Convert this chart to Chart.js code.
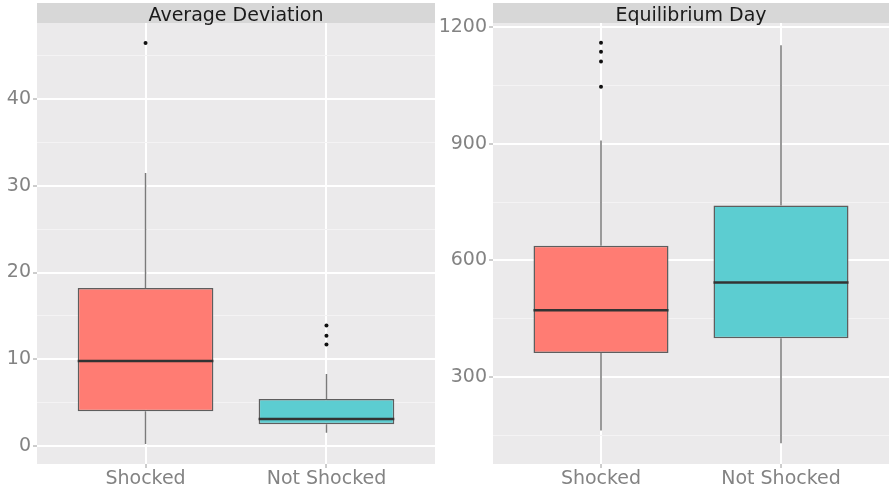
<!DOCTYPE html>
<html lang="en">

<head>
    <meta charset="UTF-8">
    <title>boxplots</title>
    <script src="https://cdn.jsdelivr.net/npm/chart.js"></script>
    <style>
        body { margin: 0; background: #fff; overflow: hidden; }
        .panel { position: absolute; top: 0; }
    </style>
</head>

<body>
    <canvas id="devChart" class="panel" width="439" height="491" style="left:0"></canvas>
    <canvas id="dayChart" class="panel" width="456" height="491" style="left:437px"></canvas>

    <script>
        // categories shared by both panels
        const categories = ["Shocked", "Not Shocked"];
        const catPos = [1, 2];
        const boxColors = ["#FF7C73", "#5CCDD1"];

        // Average Deviation
        const devMin = [0.2, 1.5];
        const devQ1 = [4.0, 2.5];
        const devMedian = [9.8, 3.1];
        const devQ3 = [18.2, 5.4];
        const devMax = [31.5, 8.3];
        const devOutliers = [[46.5], [13.9, 12.7, 11.7]];
        const devTicks = [0, 10, 20, 30, 40];
        const devMinor = [5, 15, 25, 35, 45];

        // Equilibrium Day
        const dayMin = [163, 130];
        const dayQ1 = [362, 400];
        const dayMedian = [472, 543];
        const dayQ3 = [638, 741];
        const dayMax = [908, 1153];
        const dayOutliers = [[1159, 1136, 1111, 1046], []];
        const dayTicks = [300, 600, 900, 1200];
        const dayMinor = [150, 450, 750, 1050];

        const FONT = "'DejaVu Sans', sans-serif";

        // whiskers before the boxes, medians after, strip on top
        const boxPlugin = {
            id: "boxParts",
            beforeDatasetsDraw(chart, args, opts) {
                const ctx = chart.ctx, x = chart.scales.x, y = chart.scales.y;
                ctx.save();
                ctx.strokeStyle = "#7a7a7a";
                ctx.lineWidth = 1.5;
                opts.pos.forEach((p, i) => {
                    const px = x.getPixelForValue(p);
                    ctx.beginPath();
                    ctx.moveTo(px, y.getPixelForValue(opts.min[i]));
                    ctx.lineTo(px, y.getPixelForValue(opts.q1[i]));
                    ctx.moveTo(px, y.getPixelForValue(opts.q3[i]));
                    ctx.lineTo(px, y.getPixelForValue(opts.max[i]));
                    ctx.stroke();
                });
                ctx.restore();
            },
            afterDatasetsDraw(chart, args, opts) {
                const ctx = chart.ctx, x = chart.scales.x, y = chart.scales.y;
                const bars = chart.getDatasetMeta(0).data;
                ctx.save();
                ctx.strokeStyle = "#333";
                ctx.lineWidth = 2.5;
                opts.pos.forEach((p, i) => {
                    const px = x.getPixelForValue(p);
                    const hw = bars[i].width / 2;
                    const py = y.getPixelForValue(opts.median[i]);
                    ctx.beginPath();
                    ctx.moveTo(px - hw, py);
                    ctx.lineTo(px + hw, py);
                    ctx.stroke();
                });
                // facet strip
                const a = chart.chartArea;
                ctx.fillStyle = "#D7D7D7";
                ctx.fillRect(a.left, 3, a.right - a.left, a.top - 3);
                ctx.fillStyle = "#1a1a1a";
                ctx.font = "19px " + FONT;
                ctx.textAlign = "center";
                ctx.textBaseline = "alphabetic";
                ctx.fillText(opts.title, (a.left + a.right) / 2, 21);
                ctx.restore();
            }
        };

        const panelBg = {
            id: "panelBg",
            beforeDraw(chart) {
                const a = chart.chartArea, ctx = chart.ctx;
                ctx.save();
                ctx.fillStyle = "#EBEAEB";
                ctx.fillRect(a.left, a.top, a.right - a.left, a.bottom - a.top);
                ctx.restore();
            }
        };

        function makePanel(id, title, mins, q1, med, q3, maxs, outliers, ticks, minor, yMin, yMax, axisWidth, padRight) {
            const points = [];
            outliers.forEach((list, i) => list.forEach(v => points.push({ x: catPos[i], y: v })));
            const allTicks = ticks.concat(minor).sort((a, b) => a - b);
            const isMajor = v => ticks.includes(v);

            return new Chart(id, {
                type: "bar",
                data: {
                    datasets: [{
                        data: catPos.map((p, i) => ({ x: p, y: [q1[i], q3[i]] })),
                        backgroundColor: boxColors,
                        borderColor: "#5e5e5e",
                        borderWidth: 1.5,
                        borderSkipped: false,
                        categoryPercentage: 1,
                        barPercentage: 0.75,
                        order: 2
                    }, {
                        type: "scatter",
                        data: points,
                        pointRadius: 2,
                        pointBackgroundColor: "#111",
                        pointBorderWidth: 0,
                        order: 1
                    }]
                },
                options: {
                    responsive: false,
                    animation: false,
                    layout: { padding: { top: 23, right: padRight, left: 0, bottom: 0 } },
                    plugins: {
                        legend: { display: false },
                        tooltip: { enabled: false },
                        boxParts: { title: title, pos: catPos, min: mins, q1: q1, median: med, q3: q3, max: maxs }
                    },
                    scales: {
                        x: {
                            type: "linear",
                            min: 0.4,
                            max: 2.6,
                            offset: false,
                            afterBuildTicks: s => { s.ticks = catPos.map(v => ({ value: v })); },
                            afterFit: s => { s.height = 27; },
                            ticks: {
                                callback: v => categories[catPos.indexOf(v)],
                                color: "#838383",
                                font: { family: FONT, size: 19 },
                                padding: 0,
                                maxRotation: 0
                            },
                            grid: { offset: false, color: "#ffffff", lineWidth: 2, tickLength: 4, tickColor: "#9a9a9a", tickWidth: 1 },
                            border: { display: false }
                        },
                        y: {
                            min: yMin,
                            max: yMax,
                            afterBuildTicks: s => { s.ticks = allTicks.map(v => ({ value: v })); },
                            afterFit: s => { s.width = axisWidth; },
                            ticks: {
                                callback: v => isMajor(v) ? String(v) : "",
                                color: "#838383",
                                font: { family: FONT, size: 19 },
                                padding: 2
                            },
                            grid: {
                                color: c => isMajor(c.tick.value) ? "#ffffff" : "#F4F3F4",
                                lineWidth: c => isMajor(c.tick.value) ? 2 : 1,
                                tickLength: 4,
                                tickColor: c => isMajor(c.tick.value) ? "#9a9a9a" : "rgba(0,0,0,0)",
                                tickWidth: 1
                            },
                            border: { display: false }
                        }
                    }
                },
                plugins: [panelBg, boxPlugin]
            });
        }

        makePanel("devChart", "Average Deviation", devMin, devQ1, devMedian, devQ3, devMax, devOutliers,
            devTicks, devMinor, -2.1, 48.8, 37, 0);
        makePanel("dayChart", "Equilibrium Day", dayMin, dayQ1, dayMedian, dayQ3, dayMax, dayOutliers,
            dayTicks, dayMinor, 77, 1210, 56, 0);
    </script>
</body>

</html>
